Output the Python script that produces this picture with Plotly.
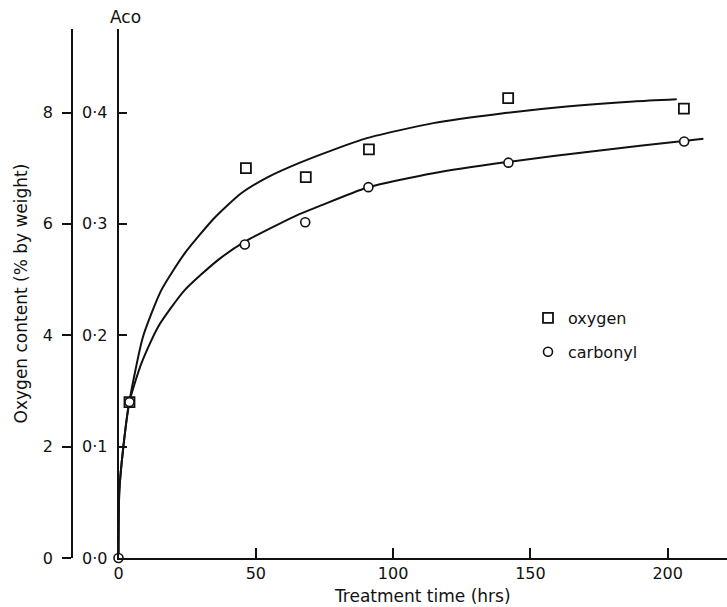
import plotly.graph_objects as go

# Measured points: treatment time (hrs) vs oxygen content (% by weight)
oxygen_time = [4, 46.4, 68.2, 91.2, 141.9, 205.9]
oxygen_content = [2.80, 7.00, 6.84, 7.34, 8.26, 8.07]

# Carbonyl absorbance A_co at the same treatment times
carbonyl_time = [0, 4, 46, 68, 91, 142, 206]
carbonyl_aco = [0.0, 0.140, 0.2815, 0.3015, 0.333, 0.355, 0.374]

# Hand-drawn smooth curves through each set
oxygen_fit_time = [0, 0.3, 1.75, 3.9, 8.9, 15.6, 24.1, 35.0, 44.7, 54.4, 66.1,
                   78.2, 90.4, 114.6, 138.9, 163.2, 187.5, 203.3]
oxygen_fit_value = [0, 1.2, 1.99, 2.79, 3.97, 4.81, 5.47, 6.11, 6.55, 6.84, 7.10,
                    7.33, 7.54, 7.81, 7.98, 8.11, 8.20, 8.24]

carbonyl_fit_time = [0, 0.3, 1.75, 3.9, 8.3, 14.4, 24.1, 36.2, 46.0, 56.9, 66.1,
                     72.7, 90.4, 114.6, 141.4, 175.3, 205.7, 213]
carbonyl_fit_aco = [0, 0.060, 0.0995, 0.1395, 0.1745, 0.2075, 0.2405, 0.2675, 0.284, 0.298, 0.309,
                    0.3155, 0.3325, 0.3455, 0.3555, 0.366, 0.3745, 0.3765]

# Axis ticks
time_ticks = [0, 50, 100, 150, 200]
oxygen_ticks = [0, 2, 4, 6, 8]
aco_ticks = [0.0, 0.1, 0.2, 0.3, 0.4]
aco_tick_labels = ["0·0", "0·1", "0·2", "0·3", "0·4"]

FONT = "DejaVu Sans"
INK = "#111111"
W, H = 727, 607
ML, MT, MB = 72, 29, 49
X0_PX = 118.5
X_DOMAIN_START = (X0_PX - ML) / (W - ML)
Y_MAX = 9.5

fig = go.Figure()

fig.add_trace(go.Scatter(
    x=oxygen_fit_time, y=oxygen_fit_value, mode="lines",
    line=dict(color=INK, width=2, shape="spline", smoothing=0.6),
    showlegend=False, hoverinfo="skip", yaxis="y",
))
fig.add_trace(go.Scatter(
    x=carbonyl_fit_time, y=carbonyl_fit_aco, mode="lines",
    line=dict(color=INK, width=2, shape="spline", smoothing=0.6),
    showlegend=False, hoverinfo="skip", yaxis="y2",
))
# circles first so the square at t = 4 h sits on top of the coincident circle
fig.add_trace(go.Scatter(
    x=carbonyl_time, y=carbonyl_aco, mode="markers", name="carbonyl",
    marker=dict(symbol="circle", size=9, color="white", line=dict(color=INK, width=1.6)),
    cliponaxis=False, yaxis="y2", legendgroup="carbonyl", legendrank=2,
))
fig.add_trace(go.Scatter(
    x=oxygen_time, y=oxygen_content, mode="markers", name="oxygen",
    marker=dict(symbol="square", size=10, color="white", line=dict(color=INK, width=1.8)),
    cliponaxis=False, yaxis="y", legendgroup="oxygen", legendrank=1,
))

fig.update_layout(
    width=W, height=H,
    margin=dict(l=ML, r=0, t=MT, b=MB, pad=0),
    paper_bgcolor="white", plot_bgcolor="white",
    font=dict(family=FONT, size=16, color=INK),
    showlegend=True,
    legend=dict(
        x=(528 - ML) / (W - ML), y=(607 - MB - 301) / (H - MT - MB),
        xanchor="left", yanchor="top",
        traceorder="grouped", tracegroupgap=10, itemsizing="trace",
        font=dict(family=FONT, size=16, color=INK),
        bgcolor="rgba(0,0,0,0)",
    ),
    xaxis=dict(
        domain=[X_DOMAIN_START, 1],
        range=[0, (W - X0_PX) / 2.746],
        tickvals=time_ticks, ticks="inside", ticklen=10, tickwidth=1.5, tickcolor=INK,
        showline=True, linecolor=INK, linewidth=1.6, showgrid=False, zeroline=False,
        tickfont=dict(family=FONT, size=16, color=INK),
        title=dict(text="Treatment time (hrs)", font=dict(family=FONT, size=17, color=INK), standoff=8),
        automargin=False,
    ),
    yaxis=dict(
        anchor="free", position=0, side="left",
        range=[0, Y_MAX],
        tickvals=oxygen_ticks, ticks="outside", ticklen=9, tickwidth=1.5, tickcolor=INK,
        showline=True, linecolor=INK, linewidth=1.6, showgrid=False, zeroline=False,
        tickfont=dict(family=FONT, size=16, color=INK),
        ticklabelstandoff=6,
        title=dict(text="Oxygen content (% by weight)", font=dict(family=FONT, size=17, color=INK), standoff=10),
        automargin=False,
    ),
    yaxis2=dict(
        anchor="x", overlaying="y", side="left",
        range=[0, Y_MAX / 20],
        tickvals=aco_ticks, ticktext=aco_tick_labels,
        ticks="inside", ticklen=9, tickwidth=1.5, tickcolor=INK,
        showline=True, linecolor=INK, linewidth=1.6, showgrid=False, zeroline=False,
        tickfont=dict(family=FONT, size=16, color=INK),
        ticklabelstandoff=6,
        automargin=False,
    ),
    annotations=[dict(
        text="Aco", xref="paper", yref="paper",
        x=X_DOMAIN_START, y=1, xanchor="center", yanchor="bottom", yshift=0, xshift=7,
        showarrow=False, font=dict(family=FONT, size=17, color=INK),
    )],
)

fig.write_html("out.html")
